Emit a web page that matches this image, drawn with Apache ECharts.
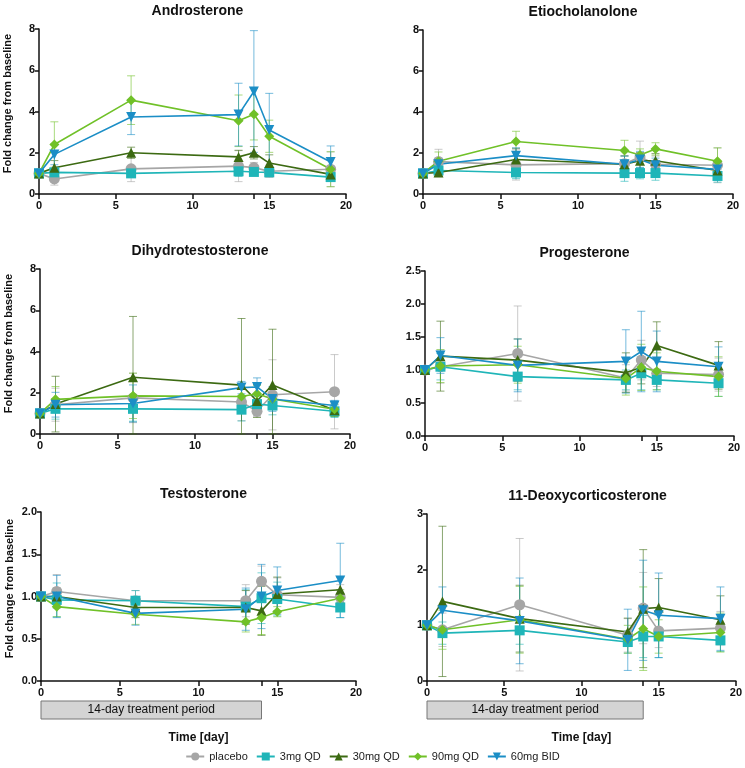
<!DOCTYPE html>
<html>
<head>
<meta http-equiv="Content-Type" content="text/html; charset=utf-8">
<title>Steroid fold change</title>
<script src="https://cdn.jsdelivr.net/npm/echarts@6.0.0/dist/echarts.min.js"></script>
<style>
  html, body { margin: 0; padding: 0; background: #fff; }
</style>
</head>
<body>
<div id="main" style="width:745px;height:768px;"></div>
<script type="text/javascript">
// sampling days
var days = [0, 1, 6, 13, 14, 15, 19];
var groups = ['placebo', '3mg QD', '30mg QD', '90mg QD', '60mg BID'];
var colors = ['#a6a6a6', '#1fb5b8', '#3c6a12', '#70c128', '#1b8ec6'];
var symbols = ['circle', 'rect', 'triangle', 'diamond', 'path://M0,0 L10,0 L5,10 Z'];
var symbolSizes = [11, 10, 10, 10, 10];

// mean fold change per group (rows follow groups), and SD
var androMean = [
    [1, 0.73, 1.22, 1.35, 1.28, 1.1, 1.2],
    [1, 1.05, 1.0, 1.1, 1.07, 1.05, 0.82],
    [1, 1.27, 2.0, 1.8, 2.0, 1.5, 0.95],
    [1, 2.4, 4.55, 3.55, 3.87, 2.8, 1.2],
    [1, 1.92, 3.73, 3.85, 4.97, 3.1, 1.55]
];
var androSD = [
    [0, 0.3, 0.62, 0.75, 0.25, 0.3, 0.84],
    [0, 0.15, 0.15, 0.25, 0.15, 0.2, 0.2],
    [0, 0.35, 0.27, 0.32, 0.3, 0.4, 0.15],
    [0, 1.1, 1.18, 1.25, 1.25, 0.78, 0.85],
    [0, 0.5, 0.85, 1.52, 2.95, 1.78, 0.78]
];
var etioMean = [
    [1, 1.58, 1.42, 1.48, 1.8, 1.45, 1.4],
    [1, 1.15, 1.05, 1.02, 1.02, 1.02, 0.88],
    [1, 1.05, 1.68, 1.45, 1.62, 1.62, 1.15],
    [1, 1.6, 2.56, 2.12, 1.9, 2.2, 1.6],
    [1, 1.45, 1.87, 1.45, 1.68, 1.4, 1.2]
];
var etioSD = [
    [0, 0.6, 0.74, 0.4, 0.78, 0.4, 0.85],
    [0, 0.25, 0.3, 0.4, 0.28, 0.35, 0.3],
    [0, 0.2, 0.55, 0.4, 0.4, 0.35, 0.3],
    [0, 0.45, 0.5, 0.5, 0.3, 0.3, 0.65],
    [0, 0.3, 0.38, 0.4, 0.4, 0.35, 0.3]
];
var dhtMean = [
    [1, 1.42, 1.75, 1.55, 1.1, 1.9, 2.05],
    [1, 1.22, 1.22, 1.18, 1.45, 1.38, 1.1],
    [1, 1.45, 2.75, 2.37, 1.6, 2.38, 1.15],
    [1, 1.68, 1.85, 1.82, 1.95, 1.7, 1.2],
    [1, 1.42, 1.48, 2.25, 2.28, 1.7, 1.38]
];
var dhtSD = [
    [0, 0.8, 1.2, 0.9, 0.25, 1.7, 1.8],
    [0, 0.5, 0.6, 0.55, 0.4, 0.45, 0.3],
    [0, 1.35, 2.95, 3.23, 0.8, 2.7, 0.3],
    [0, 0.62, 1.1, 0.5, 0.4, 0.5, 0.35],
    [0, 0.6, 0.9, 0.3, 0.44, 0.6, 0.25]
];
var progMean = [
    [1, 1.05, 1.25, 0.88, 1.15, 0.95, 0.93],
    [1, 1.05, 0.9, 0.85, 0.95, 0.85, 0.8],
    [1, 1.21, 1.15, 0.96, 1.04, 1.37, 1.07],
    [1, 1.06, 1.08, 0.87, 1.04, 0.98, 0.9],
    [1, 1.22, 1.07, 1.13, 1.28, 1.13, 1.05]
];
var progSD = [
    [0, 0.25, 0.72, 0.2, 0.3, 0.2, 0.25],
    [0, 0.2, 0.2, 0.15, 0.25, 0.15, 0.2],
    [0, 0.53, 0.32, 0.3, 0.25, 0.36, 0.36],
    [0, 0.25, 0.28, 0.25, 0.35, 0.28, 0.3],
    [0, 0.27, 0.4, 0.48, 0.61, 0.46, 0.3]
];
var testoMean = [
    [1, 1.06, 0.95, 0.95, 1.18, 1.02, 0.99],
    [1, 0.96, 0.95, 0.88, 0.98, 0.97, 0.87],
    [1, 1.0, 0.87, 0.87, 0.83, 1.03, 1.08],
    [1, 0.88, 0.79, 0.7, 0.75, 0.82, 0.98],
    [1, 1.0, 0.8, 0.85, 1.0, 1.07, 1.19]
];
var testoSD = [
    [0, 0.2, 0.12, 0.19, 0.18, 0.2, 0.15],
    [0, 0.2, 0.12, 0.2, 0.3, 0.2, 0.12],
    [0, 0.1, 0.12, 0.2, 0.29, 0.2, 0.15],
    [0, 0.12, 0.12, 0.12, 0.2, 0.06, 0.1],
    [0, 0.25, 0.14, 0.25, 0.38, 0.28, 0.44]
];
var docMean = [
    [1, 0.92, 1.37, 0.82, 1.31, 0.9, 0.95],
    [1, 0.86, 0.91, 0.7, 0.8, 0.8, 0.73],
    [1, 1.43, 1.12, 0.88, 1.3, 1.32, 1.1],
    [1, 0.92, 1.1, 0.75, 0.94, 0.8, 0.87],
    [1, 1.27, 1.08, 0.74, 1.27, 1.18, 1.12]
];
var docSD = [
    [0, 0.3, 1.19, 0.3, 0.64, 0.3, 0.3],
    [0, 0.2, 0.25, 0.2, 0.38, 0.38, 0.2],
    [0, 1.35, 0.6, 0.25, 1.06, 0.52, 0.43],
    [0, 0.35, 0.6, 0.25, 0.75, 0.3, 0.35],
    [0, 0.42, 0.77, 0.55, 0.9, 0.76, 0.57]
];

var panels = [
    { title: 'Androsterone', mean: androMean, sd: androSD, max: 8, interval: 2, dec: 0,
      grid: { left: 39, top: 29, width: 307, height: 165 } },
    { title: 'Etiocholanolone', mean: etioMean, sd: etioSD, max: 8, interval: 2, dec: 0,
      grid: { left: 423, top: 30, width: 310, height: 164 } },
    { title: 'Dihydrotestosterone', mean: dhtMean, sd: dhtSD, max: 8, interval: 2, dec: 0,
      grid: { left: 40, top: 269, width: 310, height: 165 } },
    { title: 'Progesterone', mean: progMean, sd: progSD, max: 2.5, interval: 0.5, dec: 1,
      grid: { left: 425, top: 271, width: 309, height: 165 } },
    { title: 'Testosterone', mean: testoMean, sd: testoSD, max: 2, interval: 0.5, dec: 1,
      grid: { left: 41, top: 512, width: 315, height: 169 } },
    { title: '11-Deoxycorticosterone', mean: docMean, sd: docSD, max: 3, interval: 1, dec: 0,
      grid: { left: 427, top: 514, width: 311, height: 167 } }
];

var font = 'Liberation Sans, Arial, sans-serif';

function errRenderer(color) {
    return function (params, api) {
        var x = api.value(0);
        var top = api.coord([x, api.value(2)]);
        var bot = api.coord([x, api.value(1)]);
        var w = 4;
        var st = { stroke: color, lineWidth: 1, opacity: 0.6 };
        return {
            type: 'group',
            children: [
                { type: 'line', shape: { x1: top[0], y1: top[1], x2: bot[0], y2: bot[1] }, style: st },
                { type: 'line', shape: { x1: top[0] - w, y1: top[1], x2: top[0] + w, y2: top[1] }, style: st },
                { type: 'line', shape: { x1: bot[0] - w, y1: bot[1], x2: bot[0] + w, y2: bot[1] }, style: st }
            ]
        };
    };
}

var option = {
    animation: false,
    textStyle: { fontFamily: font },
    title: [],
    grid: [],
    xAxis: [],
    yAxis: [],
    series: [],
    legend: {
        data: groups,
        bottom: 1,
        left: 'center',
        itemWidth: 18,
        itemHeight: 10,
        itemGap: 8,
        textStyle: { fontFamily: font, fontSize: 11, color: '#222' }
    }
};

panels.forEach(function (p, i) {
    var g = p.grid;
    option.grid.push(g);
    option.title.push({
        text: p.title,
        left: g.left + g.width / 2,
        top: g.top - 30,
        textAlign: 'center',
        textStyle: { fontFamily: font, fontSize: 14, fontWeight: 'bold', color: '#111' }
    });
    var bottomRow = i >= 4;
    option.xAxis.push({
        type: 'value',
        gridIndex: i,
        min: 0,
        max: 20,
        interval: 5,
        name: bottomRow ? 'Time [day]' : '',
        nameLocation: 'middle',
        nameGap: 51,
        nameTextStyle: { fontFamily: font, fontSize: 12, fontWeight: 'bold', color: '#111' },
        splitLine: { show: false },
        axisLine: { onZero: false, lineStyle: { color: '#111', width: 1.5 } },
        axisTick: { show: true, length: 5, lineStyle: { color: '#111', width: 1.5 }, customValues: [0, 5, 10, 14, 15, 20] },
        axisLabel: { color: '#111', fontWeight: 'bold', fontSize: 11, fontFamily: font, margin: 6, customValues: [0, 5, 10, 15, 20] }
    });
    option.yAxis.push({
        type: 'value',
        gridIndex: i,
        min: 0,
        max: p.max,
        interval: p.interval,
        name: (i % 2 === 0) ? 'Fold change from baseline' : '',
        nameLocation: 'middle',
        nameGap: 26,
        nameTextStyle: { fontFamily: font, fontSize: 11, fontWeight: 'bold', color: '#111', padding: [0, 0, 0, 16] },
        splitLine: { show: false },
        axisLine: { show: true, lineStyle: { color: '#111', width: 1.5 } },
        axisTick: { show: true, length: 4, lineStyle: { color: '#111', width: 1.5 } },
        axisLabel: {
            color: '#111', fontWeight: 'bold', fontSize: 11, fontFamily: font, margin: 4,
            formatter: function (v) { return v.toFixed(p.dec); }
        }
    });
    groups.forEach(function (name, k) {
        var errData = [];
        days.forEach(function (d, j) {
            var m = p.mean[k][j], s = p.sd[k][j];
            if (s > 0) errData.push([d, Math.max(0, m - s), m + s]);
        });
        option.series.push({
            type: 'custom',
            xAxisIndex: i,
            yAxisIndex: i,
            z: 1,
            renderItem: errRenderer(colors[k]),
            encode: { x: 0, y: [1, 2] },
            data: errData,
            silent: true
        });
    });
    groups.forEach(function (name, k) {
        option.series.push({
            name: name,
            type: 'line',
            xAxisIndex: i,
            yAxisIndex: i,
            z: 3,
            symbol: symbols[k],
            symbolSize: symbolSizes[k],
            color: colors[k],
            lineStyle: { width: 1.6, color: colors[k] },
            itemStyle: { color: colors[k] },
            data: days.map(function (d, j) { return [d, p.mean[k][j]]; })
        });
    });
});

var chart = echarts.init(document.getElementById('main'));
chart.setOption(option);

// treatment period boxes under the bottom panels (day 0 to day 14)
var boxes = [];
[4, 5].forEach(function (gi) {
    var a = chart.convertToPixel({ gridIndex: gi }, [0, 0]);
    var b = chart.convertToPixel({ gridIndex: gi }, [14, 0]);
    boxes.push({
        type: 'rect',
        shape: { x: a[0], y: 701, width: b[0] - a[0], height: 18 },
        style: { fill: '#d4d4d4', stroke: '#777', lineWidth: 1 }
    });
    boxes.push({
        type: 'text',
        x: (a[0] + b[0]) / 2,
        y: 710,
        style: {
            text: '14-day treatment period', fill: '#111', fontSize: 12, fontFamily: font,
            align: 'center', verticalAlign: 'middle'
        }
    });
});
chart.setOption({ graphic: boxes });
</script>
</body>
</html>
